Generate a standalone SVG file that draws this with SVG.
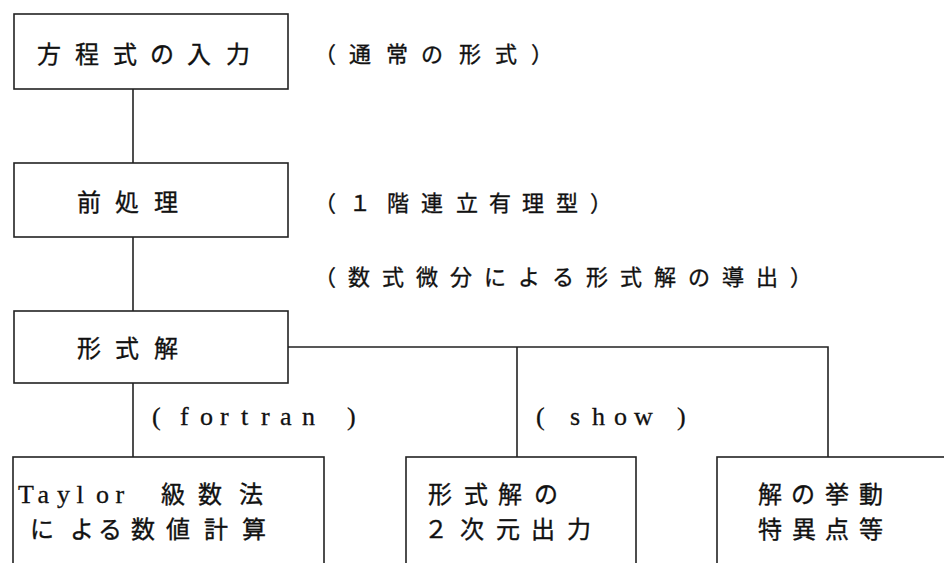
<svg xmlns="http://www.w3.org/2000/svg" width="944" height="563" viewBox="0 0 944 563">
<style>
.box{fill:#fff;stroke:#222;stroke-width:1.6}
.ln{fill:none;stroke:#222;stroke-width:1.6}
.jp{font-family:"Noto Sans CJK JP","Noto Sans CJK SC",sans-serif;fill:#111;stroke:#111;stroke-width:0.35}
.bx{font-size:24px}
.lb{font-size:22px}
.lat{font-family:"Liberation Serif",serif;font-size:26px;fill:#111;stroke:#111;stroke-width:0.3}
</style>
<rect width="944" height="563" fill="#fff"/>
<g id="connectors">
<line class="ln" x1="133" y1="89" x2="133" y2="163"/>
<line class="ln" x1="133" y1="237" x2="133" y2="311"/>
<line class="ln" x1="133" y1="383" x2="133" y2="457"/>
<polyline class="ln" points="288,347 828,347 828,457"/>
<line class="ln" x1="517" y1="347" x2="517" y2="457"/>
</g>
<g id="n1">
<rect class="box" x="14" y="14" width="274" height="75"/>
<text class="jp bx" y="63" x="37 75 113 150 187 226">方程式の入力</text>
</g>
<g id="n1note">
<text class="jp lb" y="62" x="314 349 386 421 459 495 531">（通常の形式）</text>
</g>
<g id="n2">
<rect class="box" x="14" y="163" width="274" height="74"/>
<text class="jp bx" y="211" x="77 115 154">前処理</text>
</g>
<g id="n2note">
<text class="jp lb" y="211" x="314 349 387 421 456 489 522 556 590">（１階連立有理型）</text>
<text class="jp lb" y="285" x="314 348 382 416 450 484 518 552 586 620 654 688 722 756 790">（数式微分による形式解の導出）</text>
</g>
<g id="n3">
<rect class="box" x="14" y="311" width="274" height="72"/>
<text class="jp bx" y="357" x="77 115 154">形式解</text>
</g>
<g id="lbl-fortran">
<text class="lat" y="425"><tspan x="152">(</tspan><tspan x="172"> </tspan><tspan x="180 200 220 241 261 280 302">fortran</tspan><tspan x="322"> </tspan><tspan x="347">)</tspan></text>
</g>
<g id="lbl-show">
<text class="lat" y="425"><tspan x="536">(</tspan><tspan x="556"> </tspan><tspan x="570 592 614 634">show</tspan><tspan x="660"> </tspan><tspan x="677">)</tspan></text>
</g>
<g id="n4">
<rect class="box" x="13" y="457" width="311" height="120"/>
<text y="503"><tspan class="lat" x="18 37.5 57 76.5 96 115.5">Taylor </tspan><tspan class="jp bx" x="161 198 239">級数法</tspan></text>
<text class="jp bx" y="538" x="30 70 98 131 166 204 242">による数値計算</text>
</g>
<g id="n5">
<rect class="box" x="406" y="457" width="230" height="120"/>
<text class="jp bx" y="503" x="428 464 498 534">形式解の</text>
<text class="jp bx" y="538" x="424 460 496 531 567">２次元出力</text>
</g>
<g id="n6">
<rect class="box" x="717" y="457" width="260" height="120"/>
<text class="jp bx" y="503" x="758 791 825 859">解の挙動</text>
<text class="jp bx" y="538" x="758 792 825 859">特異点等</text>
</g>
</svg>
